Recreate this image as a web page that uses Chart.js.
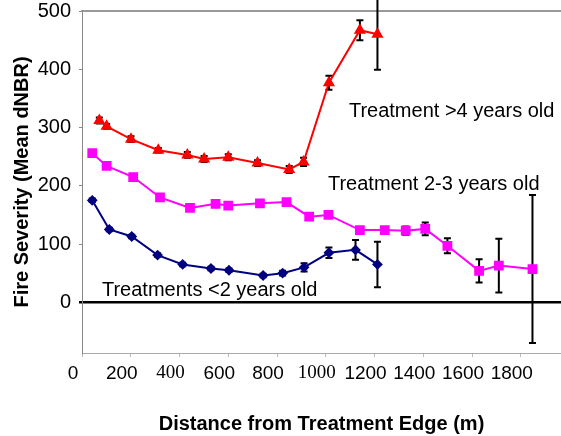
<!DOCTYPE html>
<html>
<head>
<meta charset="utf-8">
<script src="https://cdn.jsdelivr.net/npm/chart.js@4.4.1/dist/chart.umd.min.js"></script>
<style>
  body { margin: 0; background: #fff; }
  #wrap { width: 561px; height: 436px; position: relative; }
</style>
</head>
<body>
<div id="wrap"><canvas id="fireChart"></canvas></div>
<script>
// distance from treatment edge (m), mean dNBR, error bar half-length
var oldX = [71, 101, 201, 313, 432, 501, 600, 720, 850, 909, 1013, 1140, 1212];
var oldY = [312, 302, 280, 261, 253, 246, 249, 239, 228, 241, 377, 467, 460];
var oldErr = [5, 4, 5, 4, 5, 5, 5, 5, 6, 7, 12, 17, 61];

var midX = [42, 101, 210, 320, 443, 548, 600, 730, 839, 932, 1011, 1140, 1242, 1328, 1408, 1499, 1629, 1710, 1848];
var midY = [256, 234, 215, 180, 162, 169, 166, 170, 172, 147, 150, 124, 124, 123, 126, 97, 54, 63, 57];
var midErr = [3, 3, 3, 3, 3, 3, 3, 3, 3, 3, 3, 4, 5, 7, 11, 13, 20, 46, 127];

var newX = [42, 112, 204, 310, 413, 529, 603, 743, 823, 911, 1013, 1122, 1212];
var newY = [175, 125, 113, 81, 65, 58, 55, 46, 50, 60, 85, 90, 65];
var newErr = [3, 3, 3, 3, 3, 3, 3, 3, 4, 7, 9, 17, 39];

var xTicks = [0, 200, 400, 600, 800, 1000, 1200, 1400, 1600, 1800];
var yTicks = [0, 100, 200, 300, 400, 500];
var serifTicks = [400, 1000]; // these two labels are set in Times in the original

var notes = [
  { text: "Treatment >4 years old", x: 1095, y: 327 },
  { text: "Treatment 2-3 years old", x: 1009, y: 202 },
  { text: "Treatments <2 years old", x: 82, y: 21 }
];

function pts(xs, ys) {
  return xs.map(function (x, i) { return { x: x, y: ys[i] }; });
}

function noPad(s) {
  s.paddingTop = 0; s.paddingBottom = 0; s.paddingLeft = 0; s.paddingRight = 0;
}

var sans = '"Liberation Sans", Arial, sans-serif';
Chart.defaults.font.family = sans;
Chart.defaults.color = "#000";

// error bars drawn under the markers, not clipped to the plot area
var errorBars = {
  id: "errorBars",
  beforeDatasetsDraw: function (chart) {
    var ctx = chart.ctx, xs = chart.scales.x, ys = chart.scales.y;
    ctx.save();
    ctx.strokeStyle = "#000";
    ctx.lineWidth = 2;
    chart.data.datasets.forEach(function (ds) {
      ds.data.forEach(function (p, i) {
        var e = ds.errors[i];
        var px = xs.getPixelForValue(p.x);
        var top = ys.getPixelForValue(p.y + e);
        var bot = ys.getPixelForValue(p.y - e);
        ctx.beginPath();
        ctx.moveTo(px, top); ctx.lineTo(px, bot);
        ctx.moveTo(px - 3.5, top); ctx.lineTo(px + 3.5, top);
        ctx.moveTo(px - 3.5, bot); ctx.lineTo(px + 3.5, bot);
        ctx.stroke();
      });
    });
    ctx.restore();
  }
};

var noteText = {
  id: "noteText",
  afterDatasetsDraw: function (chart) {
    var ctx = chart.ctx, xs = chart.scales.x, ys = chart.scales.y;
    ctx.save();
    ctx.font = "20px " + sans;
    ctx.fillStyle = "#000";
    ctx.textAlign = "left";
    ctx.textBaseline = "middle";
    notes.forEach(function (n) {
      ctx.fillText(n.text, xs.getPixelForValue(n.x), ys.getPixelForValue(n.y));
    });
    ctx.restore();
  }
};

var ctxF = document.getElementById("fireChart").getContext("2d");
var fireChart = new Chart(ctxF, {
  type: "line",
  data: {
    datasets: [
      {
        data: pts(oldX, oldY), errors: oldErr,
        borderColor: "#FF0000", backgroundColor: "#FF0000",
        borderWidth: 2, pointStyle: "triangle", pointRadius: 5
      },
      {
        data: pts(midX, midY), errors: midErr,
        borderColor: "#FF00FF", backgroundColor: "#FF00FF",
        borderWidth: 2, pointStyle: "rect", pointRadius: 5.5
      },
      {
        data: pts(newX, newY), errors: newErr,
        borderColor: "#000080", backgroundColor: "#000080",
        borderWidth: 2, pointStyle: "rectRot", pointRadius: 4
      }
    ]
  },
  options: {
    responsive: true,
    maintainAspectRatio: false,
    animation: false,
    layout: { padding: 0, autoPadding: false },
    plugins: { legend: { display: false }, tooltip: { enabled: false } },
    scales: {
      x: {
        type: "linear", position: "bottom",
        min: 0, max: 1965,
        afterBuildTicks: function (s) { s.ticks = xTicks.map(function (v) { return { value: v }; }); },
        afterFit: function (s) { s.height = 83; noPad(s); },
        ticks: {
          maxRotation: 0, autoSkip: false,
          labelOffset: -9, padding: 5,
          font: function (c) {
            var serif = c.tick && serifTicks.indexOf(c.tick.value) >= 0;
            return { size: 19, family: serif ? '"Liberation Serif", "Times New Roman", serif' : sans };
          },
          callback: function (v) { return String(v); }
        },
        grid: { drawOnChartArea: false, tickLength: 4, color: "#bbb" },
        border: { color: "#aaa", width: 1 },
        title: {
          display: true, text: "Distance from Treatment Edge (m)",
          font: { size: 20, weight: "bold" }, padding: { top: 0, bottom: 0 }
        }
      },
      xTop: {
        type: "linear", position: "top",
        afterFit: function (s) { s.height = 11; noPad(s); },
        ticks: { display: false },
        grid: { display: false, drawTicks: false },
        border: { color: "#999", width: 2 }
      },
      y: {
        min: -87, max: 500,
        afterBuildTicks: function (s) { s.ticks = yTicks.map(function (v) { return { value: v }; }); },
        afterFit: function (s) { s.width = 82; noPad(s); },
        ticks: { padding: 8, autoSkip: false, font: { size: 20 } },
        grid: {
          tickLength: 3,
          color: function (c) { return c.tick && c.tick.value === 0 ? "#000" : "rgba(0,0,0,0)"; },
          tickColor: function (c) { return c.tick && c.tick.value === 0 ? "#000" : "#888"; },
          lineWidth: function (c) { return c.tick && c.tick.value === 0 ? 2.5 : 1; }
        },
        border: { color: "#888", width: 1 },
        title: {
          display: true, text: "Fire Severity (Mean dNBR)",
          font: { size: 20, weight: "bold" }, padding: { top: 10, bottom: 0 }
        }
      }
    }
  },
  plugins: [errorBars, noteText]
});
</script>
</body>
</html>
